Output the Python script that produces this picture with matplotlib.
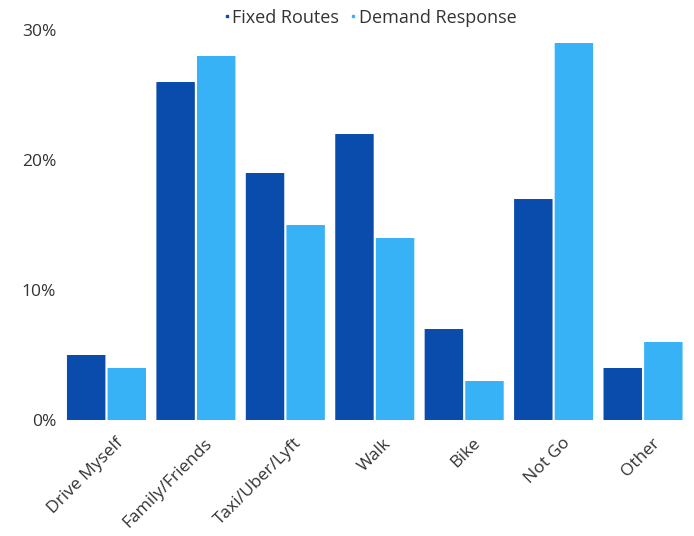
import matplotlib.pyplot as plt
import matplotlib.transforms as mtransforms
import numpy as np
from matplotlib.lines import Line2D
from matplotlib.patches import FancyBboxPatch

plt.rcParams['font.family'] = ['Open Sans', 'DejaVu Sans']

categories = ['Drive Myself', 'Family/Friends', 'Taxi/Uber/Lyft', 'Walk', 'Bike', 'Not Go', 'Other']
fixed_routes = [5, 26, 19, 22, 7, 17, 4]
demand_response = [4, 28, 15, 14, 3, 29, 6]
series_names = ['Fixed Routes', 'Demand Response']
colors = ['#0A4CAC', '#38B2F7']

fig = plt.figure(figsize=(6.94, 5.36), dpi=100)
ax = fig.add_axes([0.089, 0.2164, 0.902, 0.7276])

x = np.arange(len(categories))
width = 0.43
gap = 0.012
for vals, off, col in [(fixed_routes, -width / 2 - gap, colors[0]),
                       (demand_response, width / 2 + gap, colors[1])]:
    for xi, v in zip(x + off, vals):
        ax.add_patch(FancyBboxPatch((xi - width / 2, 0), width, v,
                                    boxstyle='round,pad=0,rounding_size=0.02',
                                    mutation_aspect=0.3,
                                    facecolor=col, edgecolor='none'))

ax.set_xlim(-0.5, len(categories) - 0.5)
ax.set_ylim(0, 30)
ax.set_yticks([0, 10, 20, 30])
ax.set_yticklabels([f'{t}%' for t in [0, 10, 20, 30]])
ax.set_xticks(x)
ax.set_xticklabels(categories, rotation=45, ha='right', rotation_mode='anchor')
ax.tick_params(axis='both', length=0, labelsize=12.5, labelcolor='#333333')
ax.tick_params(axis='x', pad=11)
ax.tick_params(axis='y', pad=4)
# nudge the rotated category labels a little to the right
shift = mtransforms.ScaledTranslation(0.085, 0, fig.dpi_scale_trans)
for lbl in ax.get_xticklabels():
    lbl.set_transform(lbl.get_transform() + shift)
for s in ax.spines.values():
    s.set_visible(False)

handles = [Line2D([], [], marker='s', linestyle='none', markersize=2,
                  markerfacecolor=c, markeredgecolor=c) for c in colors]
fig.legend(handles, series_names, loc='upper center', bbox_to_anchor=(0.534, 1.014),
           ncol=2, frameon=False, fontsize=13, handlelength=0.2,
           handletextpad=0.2, columnspacing=0.7, labelcolor='#333333')

fig.savefig('out.png', dpi=100)
